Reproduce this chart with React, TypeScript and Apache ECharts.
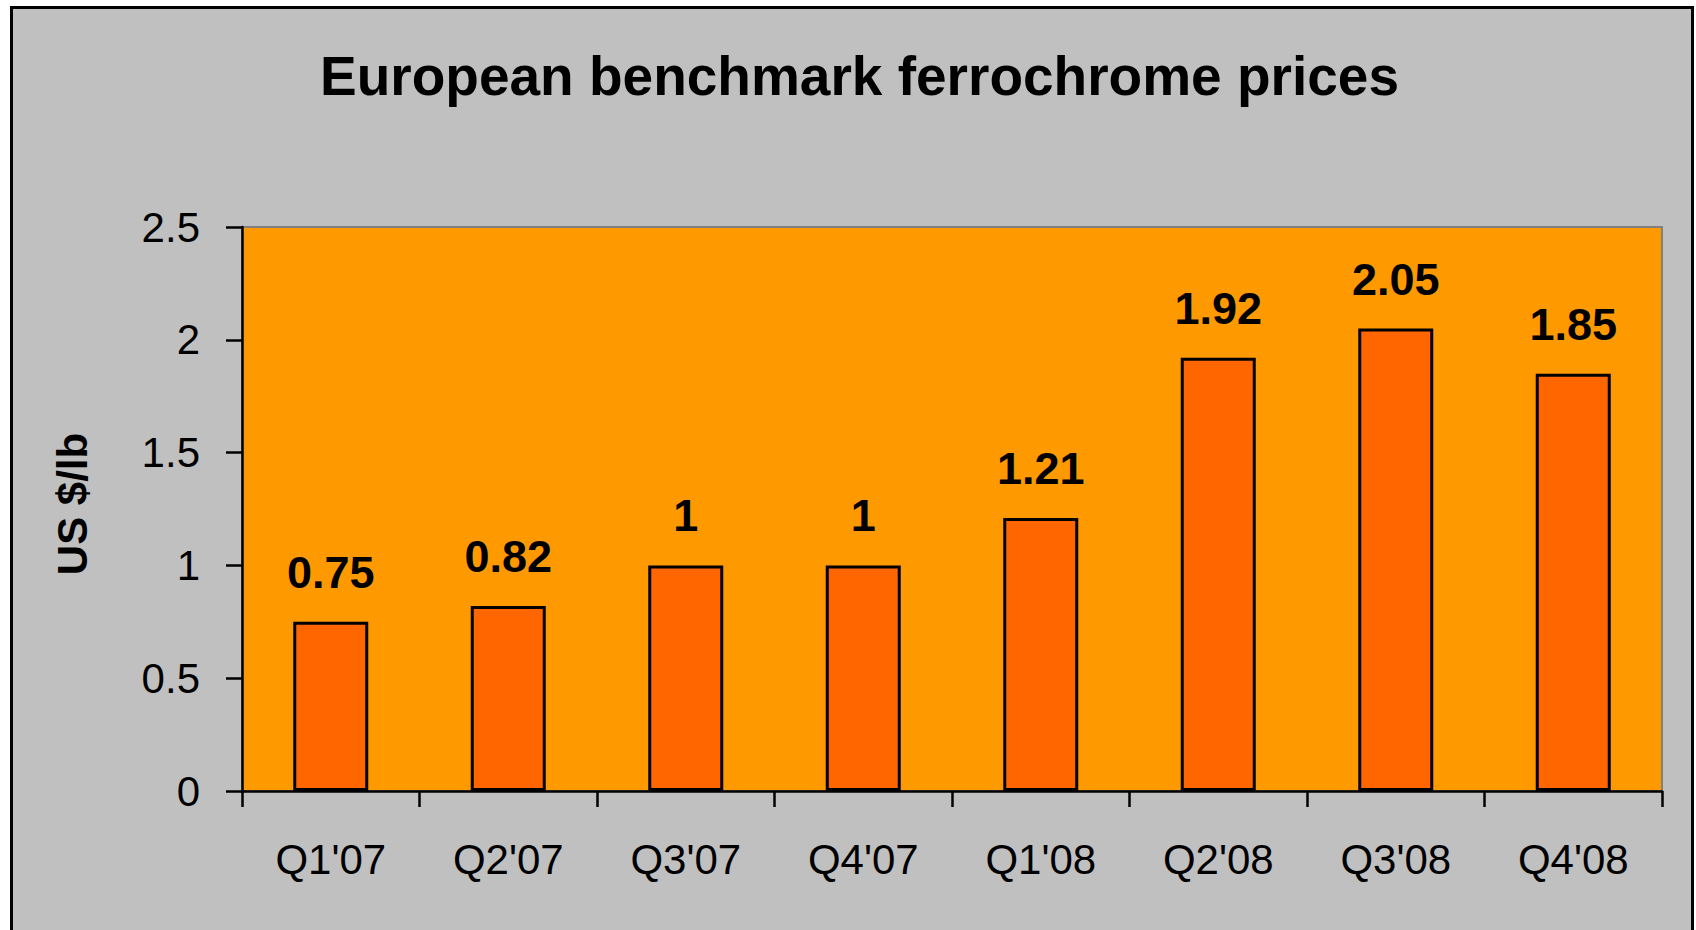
import React, { useEffect, useRef } from "react";
import * as echarts from "echarts";

const categories = ["Q1'07", "Q2'07", "Q3'07", "Q4'07", "Q1'08", "Q2'08", "Q3'08", "Q4'08"];
const prices = [0.75, 0.82, 1, 1, 1.21, 1.92, 2.05, 1.85];
const titleText = "European benchmark ferrochrome prices";
const yAxisName = "US $/lb";

const FONT = "'Liberation Sans', Arial, Helvetica, sans-serif";

export default function App() {
  const ref = useRef<HTMLDivElement>(null);
  useEffect(() => {
    if (!ref.current) return;
    const chart = echarts.init(ref.current, null, { renderer: "svg" });
    chart.setOption({
      animation: false,
      backgroundColor: "#ffffff",
      graphic: [
        {
          type: "rect",
          z: -10,
          shape: { x: 11.5, y: 7.5, width: 1681, height: 940 },
          style: { fill: "#C0C0C0", stroke: "#000000", lineWidth: 3 },
        },
        {
          type: "text",
          x: 859.5,
          y: 76,
          style: {
            text: titleText,
            font: `bold 55px ${FONT}`,
            fill: "#000000",
            align: "center",
            verticalAlign: "middle",
          },
        },
      ],
      grid: {
        left: 242,
        top: 227,
        width: 1420,
        height: 564,
        show: true,
        backgroundColor: "#FF9900",
        borderColor: "#808080",
        borderWidth: 2,
      },
      xAxis: {
        type: "category",
        data: categories,
        axisLine: { show: true, lineStyle: { color: "#000000", width: 2.5 } },
        axisTick: { show: true, length: 16, lineStyle: { color: "#000000", width: 2.5 } },
        axisLabel: { margin: 47, fontSize: 42, color: "#000000", fontFamily: FONT },
        splitLine: { show: false },
      },
      yAxis: {
        type: "value",
        min: 0,
        max: 2.5,
        interval: 0.5,
        name: yAxisName,
        nameLocation: "middle",
        nameRotate: 90,
        nameGap: 149,
        nameTextStyle: { fontSize: 42, fontWeight: "bold", color: "#000000", fontFamily: FONT, padding: [0, 0, 0, 10] },
        axisLine: { show: true, lineStyle: { color: "#000000", width: 2.5 } },
        axisTick: { show: true, length: 16, lineStyle: { color: "#000000", width: 2.5 } },
        axisLabel: { margin: 42, fontSize: 42, color: "#000000", fontFamily: FONT },
        splitLine: { show: false },
      },
      series: [
        {
          type: "bar",
          data: prices,
          barWidth: 75,
          itemStyle: { color: "#FF6600", borderColor: "#000000", borderWidth: 3 },
          label: {
            show: true,
            position: "top",
            distance: 27,
            fontSize: 45,
            fontWeight: "bold",
            color: "#000000",
            fontFamily: FONT,
          },
        },
      ],
    });
    return () => chart.dispose();
  }, []);
  return (
    <div
      ref={ref}
      style={{ position: "fixed", left: 0, top: 0, width: 1696, height: 930 }}
    />
  );
}
